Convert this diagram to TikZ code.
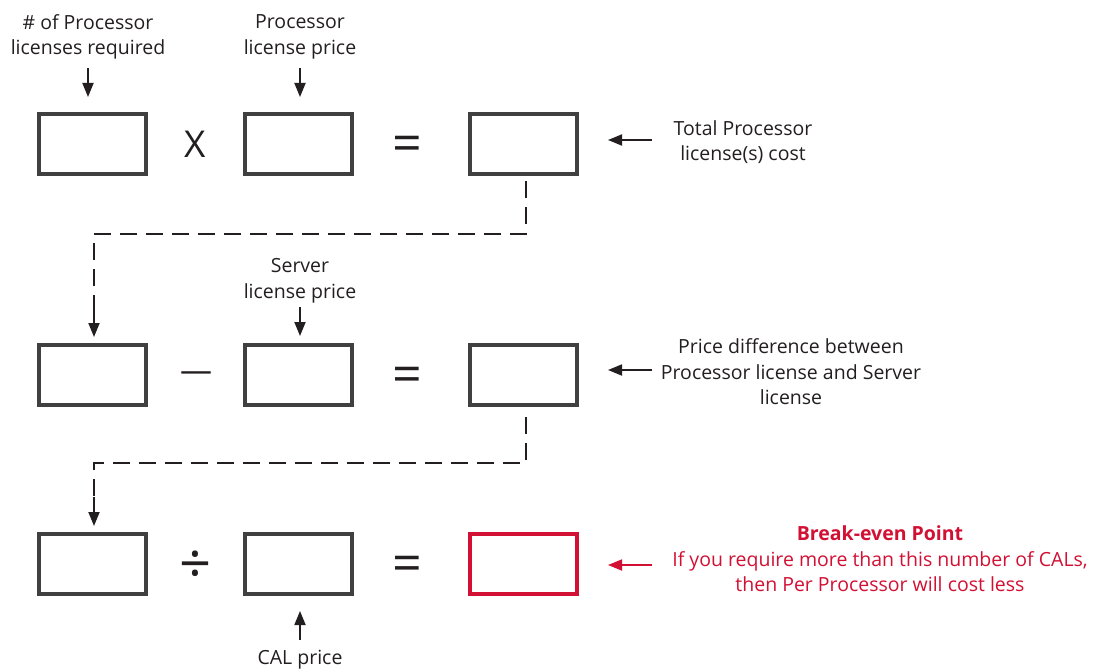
\documentclass[tikz,border=0pt]{standalone}
\usepackage{fontspec}
\setmainfont{Open Sans}
\usetikzlibrary{arrows.meta}
\definecolor{boxgray}{RGB}{64,64,64}
\definecolor{txt}{RGB}{35,31,32}
\definecolor{msred}{RGB}{210,16,52}
\tikzset{
  box/.style={draw=boxgray, line width=4pt, minimum width=107pt, minimum height=60pt, inner sep=0pt, outer sep=2pt},
  lbl/.style={align=center, font=\fontsize{19.5}{25.5}\selectfont, text=txt, inner sep=0pt},
  op/.style={text=txt, inner sep=0pt},
  arr/.style={-{Triangle[length=14pt,width=11pt]}, line width=1.8pt, draw=txt},
  dash line/.style={line width=2pt, draw=txt, dash pattern=on 17pt off 9pt},
}
\begin{document}
\begin{tikzpicture}[x=1pt,y=-1pt]
\useasboundingbox (0,0) rectangle (1099,671);
% row 1
\node[box] (a1) at (92.5,144) {};
\node[box] (b1) at (298.5,144) {};
\node[box] (c1) at (523.5,144) {};
\node[op, font=\fontsize{37}{37}\selectfont] (x1) at (195,144) {X};
\node[op, font=\fontsize{52}{52}\selectfont] (e1) at (407,149) {=};
% row 2
\node[op, font=\fontsize{32}{32}\selectfont] (m2) at (196,377) {---};
\node[box] (a2) at (92.5,375) {};
\node[box] (b2) at (298.5,375) {};
\node[box] (c2) at (523.5,375) {};
\node[op, font=\fontsize{52}{52}\selectfont] (e2) at (407,380) {=};
% row 3
\node[box] (a3) at (92.5,564) {};
\node[box] (b3) at (298.5,564) {};
\node[box, draw=msred] (c3) at (523.5,564) {};
\node[op, font=\fontsize{56}{56}\selectfont] (d3) at (196,567) {÷};
\node[op, font=\fontsize{52}{52}\selectfont] (e3) at (407,569) {=};
% labels
\node[lbl] (l1) at (88,37) {\# of Processor\\licenses required};
\node[lbl] (l2) at (300,37) {Processor\\license price};
\node[lbl] (l3) at (743,142) {Total Processor\\license(s) cost};
\node[lbl] (l4) at (300,281) {Server\\license price};
\node[lbl] (l5) at (791,372) {Price difference between\\Processor license and Server\\license};
\node[lbl, text=msred] (l6) at (880,559) {\textbf{Break-even Point}\\If you require more than this number of CALs,\\then Per Processor will cost less};
\node[lbl] (l7) at (300,660) {CAL price};
% arrows
\coordinate (t1) at (88,68);
\coordinate (t2) at (300,68);
\coordinate (t3) at (652,140);
\coordinate (t4) at (300,307);
\coordinate (t5) at (652,370);
\coordinate (t6) at (652,565);
\coordinate (t7) at (300,640);
\coordinate (u1) at (88,97);
\coordinate (u2) at (300,97);
\coordinate (u3) at (608,140);
\coordinate (u4) at (300,336);
\coordinate (u5) at (608,370);
\coordinate (u6) at (608,565);
\coordinate (u7) at (300,611);
\draw[arr] (t1) -- (u1);
\draw[arr] (t2) -- (u2);
\draw[arr] (t3) -- (u3);
\draw[arr] (t4) -- (u4);
\draw[arr] (t5) -- (u5);
\draw[arr, draw=msred] (t6) -- (u6);
\draw[arr] (t7) -- (u7);
% dashed connectors
\coordinate (s1) at (526,181);
\coordinate (k1) at (526,234);
\coordinate (j1) at (94,234);
\coordinate (h2) at (94,308);
\coordinate (v2) at (94,337);
\coordinate (s2) at (526,417);
\coordinate (k2) at (526,463);
\coordinate (j2) at (94,463);
\coordinate (h3) at (94,497);
\coordinate (v3) at (94,526);
\draw[dash line] (s1) -- (k1) -- (j1) -- (h2);
\draw[arr] (h2) -- (v2);
\draw[dash line] (s2) -- (k2) -- (j2) -- (h3);
\draw[arr] (h3) -- (v3);
\end{tikzpicture}
\end{document}
